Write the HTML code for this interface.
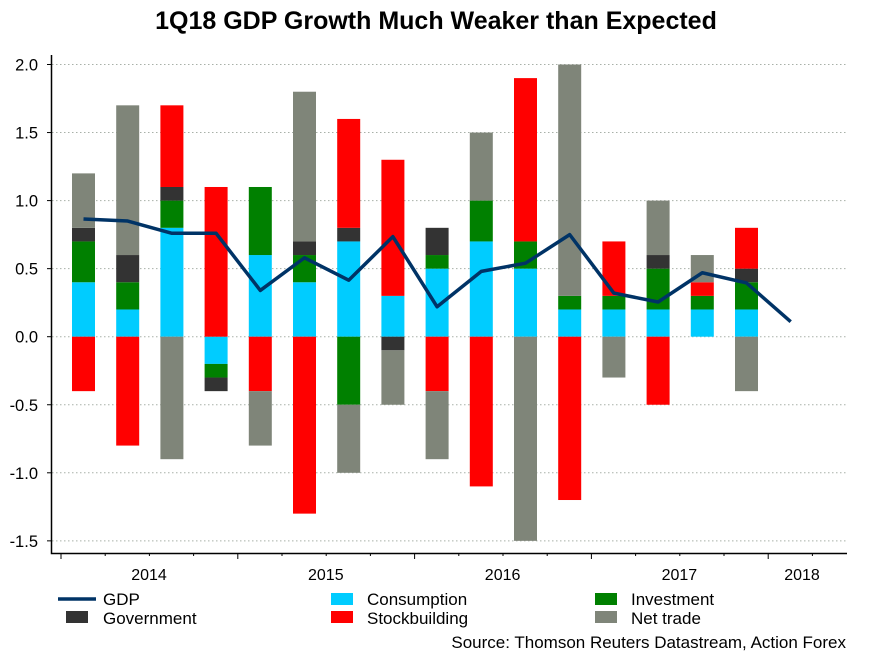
<!DOCTYPE html>
<html><head><meta charset="utf-8"><style>
body{margin:0;background:#fff;font-family:"Liberation Sans",sans-serif}
</style></head><body>
<svg id="c" width="872" height="654" xmlns="http://www.w3.org/2000/svg">
<text x="436" y="29" text-anchor="middle" font-size="25" font-weight="bold">1Q18 GDP Growth Much Weaker than Expected</text>
<g id="grid"></g><g id="bars"></g><g id="axes"></g><g id="line"></g>
<g font-size="17">
<line x1="58" y1="599" x2="96" y2="599" stroke="#003366" stroke-width="3.5"/>
<text x="103" y="605">GDP</text>
<rect x="66" y="611" width="22" height="12" fill="#333"/>
<text x="103" y="624">Government</text>
<rect x="331" y="593" width="22" height="12" fill="#00ccff"/>
<text x="367" y="605">Consumption</text>
<rect x="331" y="611" width="22" height="12" fill="#ff0000"/>
<text x="367" y="624">Stockbuilding</text>
<rect x="595" y="593" width="22" height="12" fill="#008000"/>
<text x="631" y="605">Investment</text>
<rect x="595" y="611" width="22" height="12" fill="#7f8579"/>
<text x="631" y="624">Net trade</text>
</g>
<text x="846" y="648" text-anchor="end" font-size="17">Source: Thomson Reuters Datastream, Action Forex</text>
</svg>
<script>
const consumption=[0.4,0.2,0.8,-0.2,0.6,0.4,0.7,0.3,0.5,0.7,0.5,0.2,0.2,0.2,0.2,0.2];
const investment=[0.3,0.2,0.2,-0.1,0.5,0.2,-0.5,0,0.1,0.3,0.2,0.1,0.1,0.3,0.1,0.2];
const government=[0.1,0.2,0.1,-0.1,0,0.1,0.1,-0.1,0.2,0,0,0,0,0.1,0,0.1];
const stockbuilding=[-0.4,-0.8,0.6,1.1,-0.4,-1.3,0.8,1.0,-0.4,-1.1,1.2,-1.2,0.4,-0.5,0.1,0.3];
const netTrade=[0.4,1.1,-0.9,0,-0.4,1.1,-0.5,-0.4,-0.5,0.5,-1.5,1.7,-0.3,0.4,0.2,-0.4];
const gdp=[0.865,0.85,0.76,0.76,0.34,0.58,0.415,0.735,0.22,0.48,0.54,0.75,0.32,0.255,0.47,0.395,0.11];
const yTicks=[2.0,1.5,1.0,0.5,0.0,-0.5,-1.0,-1.5];
const years=["2014","2015","2016","2017","2018"];
const NS="http://www.w3.org/2000/svg";
const y=v=>336.7-v*136.1;
const x=i=>83.5+44.2*i;
function mk(t,a,p){const e=document.createElementNS(NS,t);for(const k in a)e.setAttribute(k,a[k]);p.appendChild(e);return e;}
const G=document.getElementById('grid'),B=document.getElementById('bars'),A=document.getElementById('axes'),L=document.getElementById('line');
yTicks.forEach(v=>{
 const g=mk('line',{x1:52,x2:847,y1:y(v),y2:y(v),stroke:'#a8b0a8','stroke-dasharray':'1.5 2.5'},G);
 
 
 mk('line',{x1:47,x2:51,y1:y(v),y2:y(v),stroke:'#000'},A);
 const t=mk('text',{x:38,y:y(v)+6,'text-anchor':'end','font-size':16.5},A);t.textContent=v.toFixed(1);
 
 
});
const series=[[consumption,'#00ccff','consumption'],[investment,'#008000','investment'],[government,'#333333','government'],[stockbuilding,'#ff0000','stockbuilding'],[netTrade,'#7f8579','net-trade']];
consumption.forEach((_,i)=>{let pos=0,neg=0;
 series.forEach(([arr,col,nm])=>{const v=arr[i];if(!v)return;let a,b;
  if(v>0){a=pos;b=pos+v;pos=b;}else{a=neg;b=neg+v;neg=b;}
  const r=mk('rect',{x:x(i)-11.5,width:23,y:y(Math.max(a,b)),height:Math.abs(y(a)-y(b)),fill:col},B);
  
  
 });
});
const ax=mk('path',{d:'M51.5 55V553.5H847',stroke:'#000',fill:'none','stroke-width':1.5},A);


for(let k=0;k<18;k++){const tx=61+44.2*k;if(tx>847)break;mk('line',{x1:tx,x2:tx,y1:553,y2:k%4==0?559:556,stroke:'#000'},A);}
years.forEach((s,k)=>{const t=mk('text',{x:k<4?149+176.8*k:802,y:580,'text-anchor':'middle','font-size':16},A);t.textContent=s;
 
 
});
const pl=mk('polyline',{points:gdp.map((v,i)=>x(i)+','+y(v)).join(' '),fill:'none',stroke:'#003366','stroke-width':3.5,'stroke-linejoin':'round'},L);


</script>
</body></html>
